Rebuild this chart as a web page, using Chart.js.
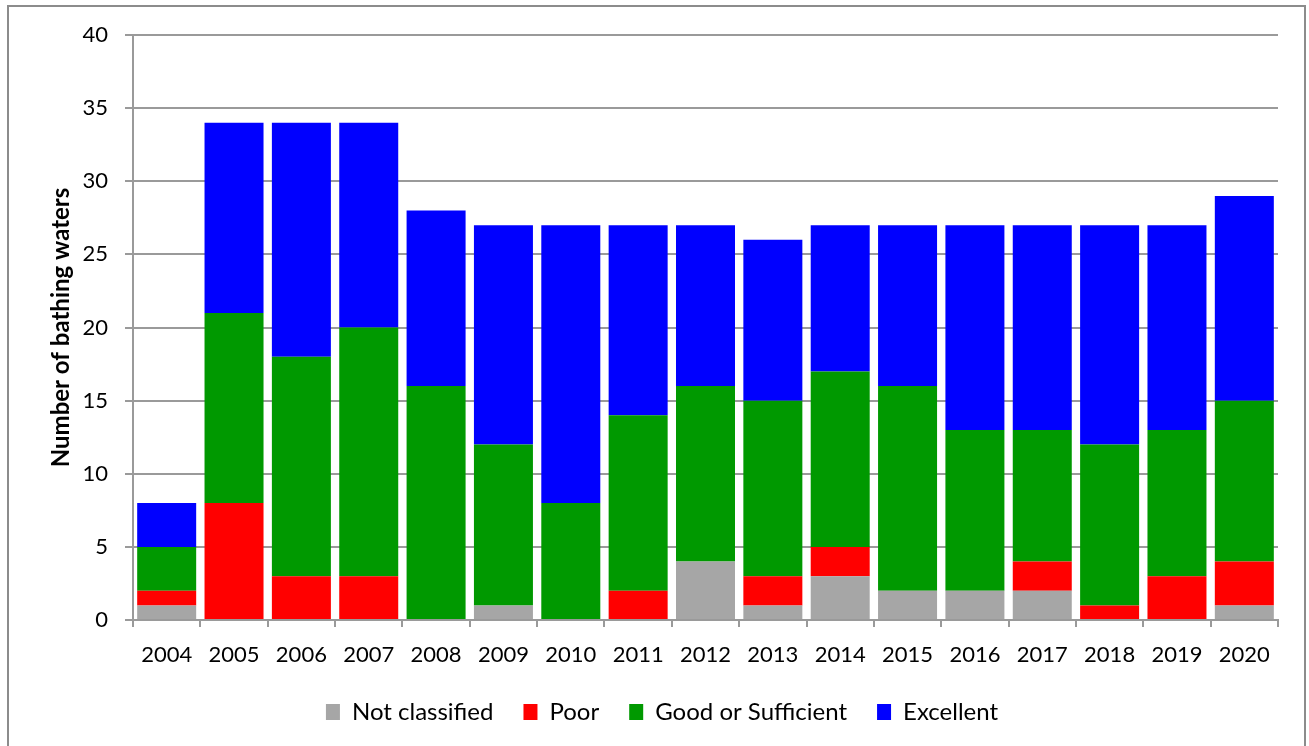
<!DOCTYPE html>
<html>
<head>
<meta charset="utf-8">
<script src="https://cdn.jsdelivr.net/npm/chart.js@4.4.1/dist/chart.umd.min.js"></script>
<style>
  html, body { margin: 0; padding: 0; background: #fff; overflow: hidden; }
  .frame {
    position: absolute; left: 7px; top: 5px; width: 1299px; height: 780px;
    border: 2px solid #8c8c8c; box-sizing: border-box;
  }
  .chartBox { position: absolute; left: 0; top: 0; width: 1309px; height: 746px; }
</style>
</head>
<body>
<div class="frame"></div>
<div class="chartBox"><canvas id="chart" width="1309" height="746"></canvas></div>
<script>
const years = ["2004", "2005", "2006", "2007", "2008", "2009", "2010", "2011", "2012",
  "2013", "2014", "2015", "2016", "2017", "2018", "2019", "2020"];
const notClassified = [1, 0, 0, 0, 0, 1, 0, 0, 4, 1, 3, 2, 2, 2, 0, 0, 1];
const poor          = [1, 8, 3, 3, 0, 0, 0, 2, 0, 2, 2, 0, 0, 2, 1, 3, 3];
const goodOrSuff    = [3, 13, 15, 17, 16, 11, 8, 12, 12, 12, 12, 14, 11, 9, 11, 10, 11];
const excellent     = [3, 13, 16, 14, 12, 15, 19, 13, 11, 11, 10, 11, 14, 14, 15, 14, 14];
const yTicks = [0, 5, 10, 15, 20, 25, 30, 35, 40];

const font = "Lato";
const gridGray = "#9a9a9a";

function ds(label, values, color) {
  return {
    label: label,
    data: values,
    backgroundColor: color,
    borderWidth: 0,
    barPercentage: 0.876,
    categoryPercentage: 1,
  };
}

new Chart(document.getElementById("chart"), {
  type: "bar",
  data: {
    labels: years,
    datasets: [
      ds("Not classified", notClassified, "#a6a6a6"),
      ds("Poor", poor, "#ff0000"),
      ds("Good or Sufficient", goodOrSuff, "#009900"),
      ds("Excellent", excellent, "#0000ff"),
    ],
  },
  options: {
    responsive: false,
    animation: false,
    maintainAspectRatio: false,
    // left padding only pushes the legend centre right, y axis width makes up for it
    layout: { padding: { left: 46, right: 31, top: 35, bottom: 12 } },
    scales: {
      x: {
        stacked: true,
        grid: { display: true, drawOnChartArea: false, drawTicks: true, tickLength: 7, color: gridGray, lineWidth: 2 },
        border: { display: true, color: gridGray, width: 2 },
        ticks: { color: "#000", padding: 15, maxRotation: 0, autoSkip: false, font: { family: font, size: 22 } },
        afterFit: (scale) => { scale.height = 50; },
      },
      y: {
        stacked: true,
        min: 0,
        max: 40,
        afterBuildTicks: (scale) => { scale.ticks = yTicks.map((v) => ({ value: v })); },
        grid: { color: gridGray, lineWidth: 2, tickLength: 8 },
        border: { display: true, color: gridGray, width: 2 },
        ticks: { color: "#000", padding: 17, font: { family: font, size: 22 } },
        title: {
          display: true,
          text: "Number of bathing waters",
          color: "#000",
          padding: { top: 1, bottom: 0 },
          font: { family: font, size: 24, weight: "bold" },
        },
        afterFit: (scale) => { scale.width = 87; },
      },
    },
    plugins: {
      legend: {
        position: "bottom",
        labels: {
          color: "#000",
          boxWidth: 14,
          boxHeight: 16,
          padding: 30,
          font: { family: font, size: 24 },
        },
      },
      tooltip: { enabled: false },
    },
  },
});
</script>
</body>
</html>
